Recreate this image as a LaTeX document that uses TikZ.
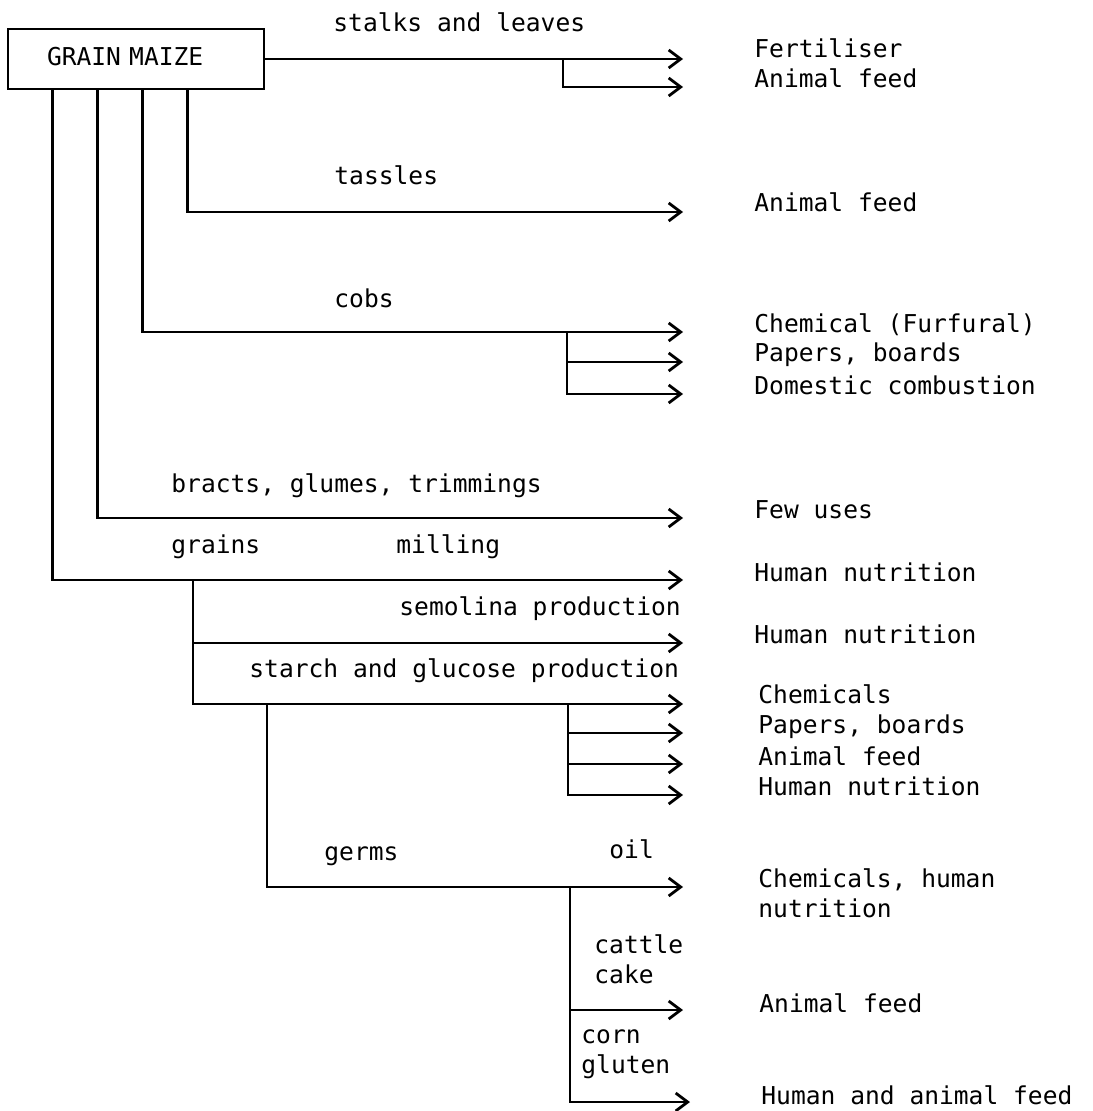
\documentclass[tikz,border=0pt]{standalone}
\usepackage{fontspec}
\usepackage{tikz}
\usetikzlibrary{arrows.meta}
\newfontfamily\labelfont{DejaVu Sans Mono}

\tikzset{
    flow/.style={-{Straight Barb[length=6pt, width=9pt]}},
    lbl/.style={font=\labelfont\fontsize{12.3}{15}\selectfont, anchor=base west, inner sep=0pt, align=left}}

\begin{document}
\begin{tikzpicture}[x=0.5pt, y=-0.5pt, line width=1.4pt]

            \useasboundingbox (0,0) rectangle (1092,1111);

            \node[draw, lbl, anchor=center, minimum width=128pt, minimum height=30pt, text width=89pt, inner xsep=19.5pt, text height=9pt, text depth=2.5pt] (maize) at (136,59) {GRAIN MAIZE};

            % arrow ends
            \coordinate (stalkA) at (683,59);
            \coordinate (stalkB) at (683,87);
            \coordinate (tassA) at (683,212);
            \coordinate (cobA) at (683,332);
            \coordinate (cobB) at (683,362);
            \coordinate (cobC) at (683,394);
            \coordinate (bractA) at (683,518);
            \coordinate (grainA) at (683,580);
            \coordinate (semA) at (683,643);
            \coordinate (starchA) at (683,704);
            \coordinate (starchB) at (683,733);
            \coordinate (starchC) at (683,764);
            \coordinate (starchD) at (683,795);
            \coordinate (oilA) at (683,887);
            \coordinate (cakeA) at (683,1010);
            \coordinate (glutenA) at (690,1102);

            % branch points
            \coordinate (stalkJ) at (563,59);
            \coordinate (cobJ) at (567,332);
            \coordinate (grainJ) at (193,580);
            \coordinate (starchJ) at (568,704);
            \coordinate (germJ) at (267,704);
            \coordinate (oilJ) at (570,887);

            \draw[flow] (maize.east) -- (stalkA);
            \draw[flow] (stalkJ) |- (stalkB);
            \draw[flow] ([xshift=90.5pt]maize.south west) |- (tassA);
            \draw[flow] ([xshift=68pt]maize.south west) |- (cobA);
            \draw[flow] (cobJ) |- (cobB);
            \draw[flow] (cobJ) |- (cobC);
            \draw[flow] ([xshift=45.5pt]maize.south west) |- (bractA);
            \draw[flow] ([xshift=23pt]maize.south west) |- (grainA);
            \draw[flow] (grainJ) |- (semA);
            \draw[flow] (grainJ) |- (starchA);
            \draw[flow] (starchJ) |- (starchB);
            \draw[flow] (starchJ) |- (starchC);
            \draw[flow] (starchJ) |- (starchD);
            \draw[flow] (germJ) |- (oilA);
            \draw[flow] (oilJ) |- (cakeA);
            \draw[flow] (oilJ) |- (glutenA);

            % by-products
            \node[lbl] (stalks) at (332,32) {stalks and leaves};
            \node[lbl] (tassles) at (333,185) {tassles};
            \node[lbl] (cobs) at (333,308) {cobs};
            \node[lbl] (bracts) at (170,493) {bracts, glumes, trimmings};
            \node[lbl] (grains) at (170,553) {grains};
            \node[lbl] (milling) at (395,553) {milling};
            \node[lbl] (semolina) at (398,615) {semolina production};
            \node[lbl] (starch) at (248,677) {starch and glucose production};
            \node[lbl] (germs) at (323,860) {germs};
            \node[lbl] (oil) at (608,858) {oil};
            \node[lbl] (cake) at (593,983) {cattle\\cake};
            \node[lbl] (gluten) at (580,1073) {corn\\gluten};

            % uses
            \node[lbl] (useA) at (753,58) {Fertiliser};
            \node[lbl] (useB) at (753,88) {Animal feed};
            \node[lbl] (useC) at (753,212) {Animal feed};
            \node[lbl] (useD) at (753,333) {Chemical (Furfural)};
            \node[lbl] (useE) at (753,362) {Papers, boards};
            \node[lbl] (useF) at (753,395) {Domestic combustion};
            \node[lbl] (useG) at (753,518) {Few uses};
            \node[lbl] (useH) at (753,581) {Human nutrition};
            \node[lbl] (useI) at (753,643) {Human nutrition};
            \node[lbl] (useJ) at (757,703) {Chemicals};
            \node[lbl] (useK) at (757,733) {Papers, boards};
            \node[lbl] (useL) at (757,765) {Animal feed};
            \node[lbl] (useM) at (757,795) {Human nutrition};
            \node[lbl] (useN) at (757,917) {Chemicals, human\\nutrition};
            \node[lbl] (useO) at (758,1012) {Animal feed};
            \node[lbl] (useP) at (760,1104) {Human and animal feed};

        \end{tikzpicture}
\end{document}
